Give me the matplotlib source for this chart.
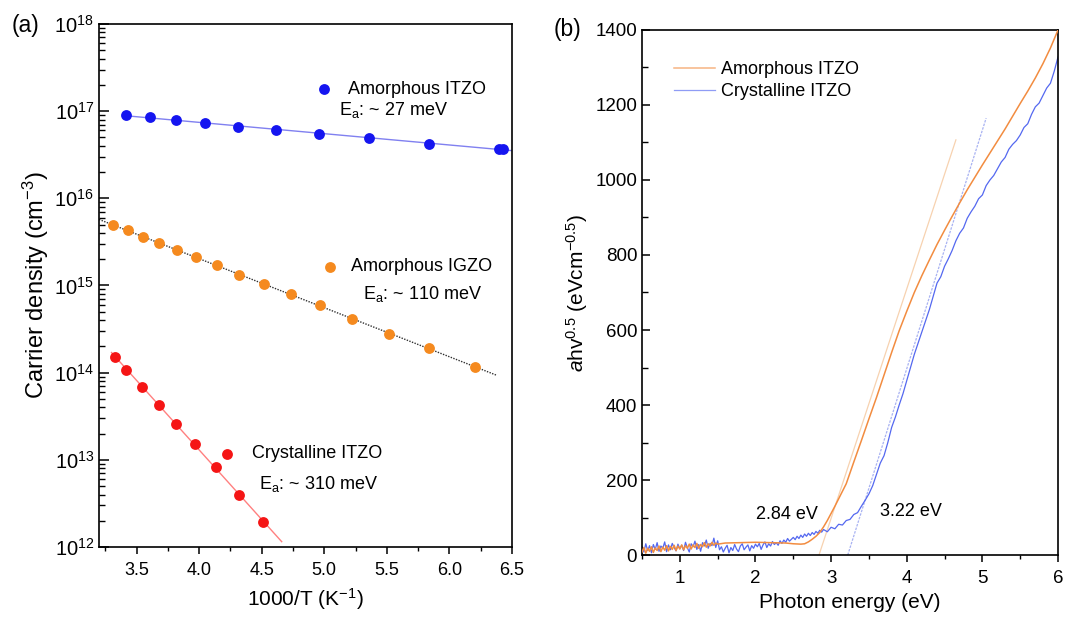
import numpy as np
import matplotlib
matplotlib.use("Agg")
import matplotlib.pyplot as plt
from matplotlib.ticker import MultipleLocator, NullFormatter, FixedLocator, LogFormatterSciNotation

plt.rcParams['font.family'] = ['Liberation Sans', 'DejaVu Sans']
plt.rcParams['mathtext.fontset'] = 'custom'
plt.rcParams['mathtext.rm'] = 'Liberation Sans'
plt.rcParams['mathtext.it'] = 'Liberation Sans:italic'
plt.rcParams['mathtext.bf'] = 'Liberation Sans:bold'

# ---------------- Panel (a) data ----------------
a_itzo_x = [3.416, 3.605, 3.813, 4.045, 4.309, 4.613, 4.96, 5.36, 5.838, 6.40, 6.426]
a_itzo_n = [9.1e16, 8.5e16, 7.9e16, 7.3e16, 6.6e16, 6.1e16, 5.5e16, 4.9e16, 4.2e16, 3.7e16, 3.7e16]
a_igzo_x = [3.315, 3.429, 3.549, 3.68, 3.824, 3.976, 4.141, 4.317, 4.515, 4.731, 4.963,
            5.221, 5.515, 5.838, 6.205]
a_igzo_n = [4.9e15, 4.3e15, 3.6e15, 3.06e15, 2.54e15, 2.13e15, 1.71e15, 1.33e15, 1.04e15,
            8.0e14, 5.9e14, 4.14e14, 2.79e14, 1.91e14, 1.16e14]
c_itzo_x = [3.325, 3.419, 3.544, 3.677, 3.818, 3.97, 4.136, 4.318, 4.512]
c_itzo_n = [1.52e14, 1.08e14, 6.9e13, 4.3e13, 2.59e13, 1.51e13, 8.2e12, 3.9e12, 1.93e12]

a_itzo_fit_range = [3.40, 6.5]
a_igzo_fit_range = [3.2, 6.38]
c_itzo_fit_range = [3.30, 4.66]

a_xticks = [3.5, 4.0, 4.5, 5.0, 5.5, 6.0, 6.5]
a_xminor = [3.25, 3.75, 4.25, 4.75, 5.25, 5.75, 6.25]
a_yticks = [1e12, 1e13, 1e14, 1e15, 1e16, 1e17, 1e18]

a_labels = ["Amorphous ITZO", "Amorphous IGZO", "Crystalline ITZO"]
a_ea = [r"E$_\mathregular{a}$: ~ 27 meV", r"E$_\mathregular{a}$: ~ 110 meV",
        r"E$_\mathregular{a}$: ~ 310 meV"]

# ---------------- Panel (b) data ----------------
blue_E = list(np.round(np.arange(0.5, 2.9001, 0.025), 3))
blue_A = [22, 8, 30, 12, 25, 6, 28, 15, 33, 10, 24, 18, 35, 9, 27, 14, 31, 20, 11, 29, 17,
          26, 12, 34, 19, 8, 30, 22, 37, 15, 28, 10, 33, 24, 40, 18, 31, 25, 45, 20, 38,
          14, 22, 8, 18, 26, 6, 20, 12, 28, 16, 9, 24, 30, 14, 21, 27, 11, 25, 18, 29,
          22, 31, 15, 27, 35, 20, 30, 24, 36, 28, 33, 26, 38, 31, 40, 34, 44, 37, 42, 47,
          41, 50, 44, 53, 47, 56, 50, 58, 52, 60, 55, 63, 58, 66, 61, 68]
blue_E2 = [2.95, 3.0, 3.05, 3.1, 3.15, 3.2, 3.25, 3.3, 3.35, 3.4, 3.45, 3.5, 3.55, 3.6, 3.65,
           3.7, 3.75, 3.8, 3.85, 3.9, 3.95, 4.0, 4.05, 4.1, 4.15, 4.2, 4.25, 4.3, 4.35, 4.4,
           4.45, 4.5, 4.55, 4.6, 4.65, 4.7, 4.75, 4.8, 4.85, 4.9, 4.95, 5.0, 5.05, 5.1, 5.15,
           5.2, 5.25, 5.3, 5.35, 5.4, 5.45, 5.5, 5.55, 5.6, 5.65, 5.7, 5.75, 5.8, 5.85, 5.9,
           5.95, 6.0]
blue_A2 = [62, 74, 70, 82, 80, 92, 95, 108, 113, 130, 146, 163, 185, 215, 245,
           265, 300, 340, 368, 400, 430, 465, 500, 535, 565, 595, 625, 655, 690, 725,
           742, 770, 790, 812, 838, 858, 872, 898, 915, 930, 950, 960, 985, 1000, 1012,
           1030, 1048, 1060, 1082, 1095, 1105, 1120, 1140, 1150, 1175, 1195, 1205, 1225, 1245, 1258,
           1290, 1328]

orange_E = list(np.round(np.arange(0.5, 1.5001, 0.025), 3))
orange_A = [8, 20, 5, 18, 10, 22, 7, 19, 12, 24, 9, 21, 13, 25, 11, 23, 15, 26, 12, 24, 16,
            27, 14, 25, 18, 29, 16, 27, 20, 31, 18, 28, 22, 33, 21, 30, 24, 34, 26, 32, 29]
orange_E2 = [1.6, 1.8, 2.0, 2.2, 2.4, 2.5, 2.6, 2.65, 2.7, 2.75, 2.8, 2.85, 2.9, 2.95, 3.0,
             3.05, 3.1, 3.15, 3.2, 3.3, 3.4, 3.5, 3.6, 3.7, 3.8, 3.9, 4.0, 4.1, 4.2, 4.3,
             4.4, 4.5, 4.6, 4.7, 4.8, 4.9, 5.0, 5.1, 5.2, 5.3, 5.4, 5.5, 5.6, 5.7, 5.8, 5.9, 6.0]
orange_A2 = [32, 33, 34, 33, 32, 30, 29, 30, 35, 42, 50, 60, 75, 92, 111,
             130, 150, 170, 190, 248, 305, 363, 420, 480, 540, 598, 650, 700, 745, 787,
             828, 866, 903, 939, 974, 1007, 1040, 1072, 1104, 1136, 1170, 1204, 1237, 1272, 1310, 1352, 1400]

orange_tangent_E = [2.84, 4.65]
orange_tangent_A = [0, 1107]
blue_tangent_E = [3.22, 5.05]
blue_tangent_A = [0, 1165]

b_xticks = [1, 2, 3, 4, 5, 6]
b_yticks = [0, 200, 400, 600, 800, 1000, 1200, 1400]

b_labels = ["Amorphous ITZO", "Crystalline ITZO"]
gap_labels = ["2.84 eV", "3.22 eV"]

# ---------------- Figure ----------------
fig = plt.figure(figsize=(10.7, 6.18), dpi=100)
ax1 = fig.add_axes([0.0925, 0.1149, 0.3860, 0.8463])
ax2 = fig.add_axes([0.6, 0.1019, 0.3888, 0.8496])

c_blue = '#1515f0'
c_orange = '#f58a1f'
c_red = '#f51515'

def fit_line(ax, xs, ns, rng, color, ls, lw):
    p = np.polyfit(xs, np.log10(ns), 1)
    xx = np.linspace(rng[0], rng[1], 50)
    ax.plot(xx, 10 ** np.polyval(p, xx), color=color, ls=ls, lw=lw, zorder=1)

fit_line(ax1, a_itzo_x, a_itzo_n, a_itzo_fit_range, '#8080f0', '-', 1.0)
fit_line(ax1, a_igzo_x, a_igzo_n, a_igzo_fit_range, '#303030', (0, (1, 1)), 1.0)
fit_line(ax1, c_itzo_x, c_itzo_n, c_itzo_fit_range, '#ff8080', '-', 1.0)

ms = 7.8
ax1.plot(a_itzo_x, a_itzo_n, 'o', color=c_blue, ms=ms, mec='none', zorder=3)
ax1.plot(a_igzo_x, a_igzo_n, 'o', color=c_orange, ms=ms, mec='none', zorder=3)
ax1.plot(c_itzo_x, c_itzo_n, 'o', color=c_red, ms=ms, mec='none', zorder=3)

# legend-like annotations
fs_ann = 13
ax1.plot([4.995], [1.78e17], 'o', color=c_blue, ms=ms, mec='none')
ax1.text(5.19, 1.78e17, a_labels[0], fontsize=fs_ann, ha='left', va='center')
ax1.text(5.12, 1.03e17, a_ea[0], fontsize=fs_ann, ha='left', va='center')
ax1.plot([5.048], [1.65e15], 'o', color=c_orange, ms=ms, mec='none')
ax1.text(5.21, 1.65e15, a_labels[1], fontsize=fs_ann, ha='left', va='center')
ax1.text(5.31, 8.0e14, a_ea[1], fontsize=fs_ann, ha='left', va='center')
ax1.plot([4.22], [1.17e13], 'o', color=c_red, ms=ms, mec='none')
ax1.text(4.424, 1.17e13, a_labels[2], fontsize=fs_ann, ha='left', va='center')
ax1.text(4.48, 5.35e12, a_ea[2], fontsize=fs_ann, ha='left', va='center')

ax1.set_yscale('log')
ax1.set_xlim(3.2, 6.5)
ax1.set_ylim(1e12, 1e18)
ax1.yaxis.set_major_locator(FixedLocator(a_yticks))
ax1.yaxis.set_major_formatter(LogFormatterSciNotation())
ax1.yaxis.set_minor_locator(FixedLocator([m * d for d in a_yticks[:-1] for m in range(2, 10)]))
ax1.yaxis.set_minor_formatter(NullFormatter())
ax1.set_xticks(a_xticks)
ax1.set_xticklabels([f"{v:.1f}" for v in a_xticks])
ax1.xaxis.set_minor_locator(FixedLocator(a_xminor))
ax1.tick_params(axis='y', which='major', direction='in', length=7, width=1.1, labelsize=14.5)
ax1.tick_params(axis='y', which='minor', direction='in', length=4, width=1.0)
ax1.tick_params(axis='x', which='major', direction='out', length=5, width=1.1, labelsize=13, pad=6)
ax1.tick_params(axis='x', which='minor', direction='out', length=3, width=1.0)
ax1.set_xlabel(r"1000/T (K$^{-1}$)", fontsize=15, labelpad=5)
ax1.set_ylabel(r"Carrier density (cm$^{-3}$)", fontsize=17, labelpad=2)
for s in ax1.spines.values():
    s.set_linewidth(1.2)

# ---------------- Panel (b) ----------------
c_or2 = '#f28c40'
c_bl2 = '#5468f0'
ax2.plot(orange_tangent_E, orange_tangent_A, color='#f7d2b0', lw=0.9, zorder=1)
ax2.plot(blue_tangent_E, blue_tangent_A, color='#a8b2f2', lw=0.9, ls=(0, (2, 1)), zorder=1)
ax2.plot(orange_E + orange_E2, orange_A + orange_A2, color=c_or2, lw=1.1, label=b_labels[0], zorder=3)
ax2.plot(blue_E + blue_E2, blue_A + blue_A2, color=c_bl2, lw=0.9, label=b_labels[1], zorder=2)
ax2.text(2.41, 109, gap_labels[0], fontsize=13, ha='center', va='center')
ax2.text(4.06, 115, gap_labels[1], fontsize=13, ha='center', va='center')

leg = ax2.legend(loc='upper left', bbox_to_anchor=(0.055, 0.958), frameon=False,
                 fontsize=13, handlelength=2.3, handletextpad=0.3, labelspacing=0.3,
                 borderpad=0)
for h in leg.get_lines():
    h.set_alpha(0.65)

ax2.set_xlim(0.5, 6.0)
ax2.set_ylim(0, 1400)
ax2.set_xticks(b_xticks)
ax2.set_yticks(b_yticks)
ax2.xaxis.set_minor_locator(MultipleLocator(0.5))
ax2.yaxis.set_minor_locator(MultipleLocator(100))
ax2.tick_params(axis='y', which='major', direction='in', length=6, width=1.1, labelsize=13.5)
ax2.tick_params(axis='y', which='minor', direction='in', length=4, width=1.0)
ax2.tick_params(axis='x', which='major', direction='out', length=5, width=1.1, labelsize=13.5, pad=6)
ax2.tick_params(axis='x', which='minor', direction='out', length=3, width=1.0)
ax2.set_xlabel("Photon energy (eV)", fontsize=15, labelpad=4)
ax2.set_ylabel(r"$a$hv$^{0.5}$ (eVcm$^{-0.5}$)", fontsize=15, labelpad=4)
for s in ax2.spines.values():
    s.set_linewidth(1.2)

fig.text(0.024, 0.958, "(a)", fontsize=16.5, ha='center', va='center')
fig.text(0.530, 0.953, "(b)", fontsize=16.5, ha='center', va='center')

fig.savefig("out.png", dpi=100)
